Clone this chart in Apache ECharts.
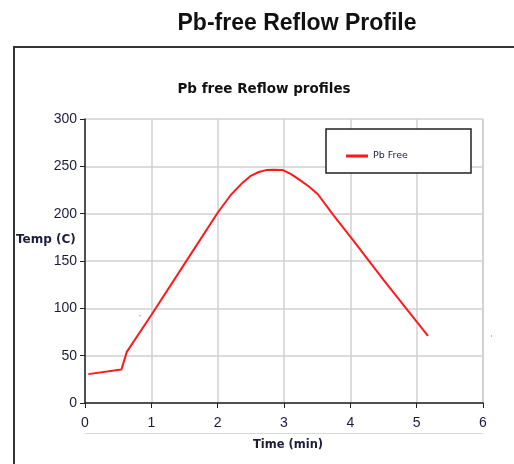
<!DOCTYPE html>
<html><head><meta charset="utf-8">
<script src="https://cdn.jsdelivr.net/npm/echarts@6/dist/echarts.min.js"></script>
<style>html,body{margin:0;padding:0;background:#fff}#c{width:514px;height:464px}</style>
</head><body><div id="c"></div>
<script>
const timeMin = [0.05, 0.55, 0.63, 1.0, 1.5, 2.0, 2.2, 2.38, 2.5, 2.62, 2.73, 2.85, 2.98, 3.1, 3.23, 3.37, 3.51, 3.75, 4.04, 4.5, 5.17];
const tempC   = [30.5, 35.5, 54, 93, 147, 201, 220, 233, 240, 244, 246, 246.5, 246, 242, 236, 229, 220.5, 198, 172, 130, 71];
const seriesName = 'Pb Free';
const xTicks = [0, 1, 2, 3, 4, 5, 6];
const yTicks = [0, 50, 100, 150, 200, 250, 300];

const chart = echarts.init(document.getElementById('c'));
const txt = '#1c1c3c';
chart.setOption({
  animation: false,
  title: [
    {text: 'Pb-free Reflow Profile', left: 292, top: 7, textAlign: 'center',
     textStyle: {fontFamily: 'Liberation Sans', fontSize: 23, fontWeight: 'bold', color: '#111'}},
    {text: 'Pb free Reflow profiles', left: 259, top: 77, textAlign: 'center',
     textStyle: {fontFamily: 'DejaVu Sans', fontSize: 13.5, fontWeight: 'bold', color: '#111'}}
  ],
  legend: {
    left: 346, top: 149, padding: [0, 0, 0, 0], z: 10,
    itemWidth: 22, itemHeight: 3, icon: 'rect', itemGap: 4,
    textStyle: {fontFamily: 'DejaVu Sans', fontSize: 9.5, color: txt, verticalAlign: 'top', lineHeight: 14},
    data: [seriesName]
  },
  grid: {left: 85, right: 31, top: 119, bottom: 61},
  xAxis: {
    type: 'value', min: 0, max: 6, interval: 1,
    name: 'Time (min)', nameLocation: 'middle', nameGap: 36,
    nameTextStyle: {fontFamily: 'DejaVu Sans', fontSize: 11.5, fontWeight: 'bold', color: txt, padding: [0, 0, 0, 8]},
    axisLine: {show: true, onZero: false, lineStyle: {color: '#222', width: 1.5}},
    axisTick: {show: true, length: 5, lineStyle: {color: '#222'}},
    axisLabel: {fontFamily: 'Liberation Sans', fontSize: 14, color: txt, margin: 13,
      formatter: v => xTicks.includes(v) ? String(v) : ''},
    splitLine: {show: true, lineStyle: {color: '#d0d0d0', width: 1.5}}
  },
  yAxis: {
    type: 'value', min: 0, max: 300, interval: 50,
    axisLine: {show: true, lineStyle: {color: '#222', width: 1.5}},
    axisTick: {show: true, length: 5, lineStyle: {color: '#222'}},
    axisLabel: {fontFamily: 'Liberation Sans', fontSize: 14, color: txt, margin: 8,
      formatter: v => yTicks.includes(v) ? String(v) : ''},
    splitLine: {show: true, lineStyle: {color: '#d0d0d0', width: 1.5}}
  },
  graphic: [
    {type: 'polyline', shape: {points: [[14, 464], [14, 47], [514, 47]]}, style: {stroke: '#333', lineWidth: 2, fill: null}},
    {type: 'line', shape: {x1: 483, y1: 119, x2: 483, y2: 403}, style: {stroke: '#c8c8c8', lineWidth: 1.5}},
    {type: 'rect', shape: {x: 326, y: 129, width: 145, height: 44}, style: {stroke: '#222', lineWidth: 1.5, fill: '#fff'}, z: 3},
    {type: 'line', shape: {x1: 85, y1: 433.5, x2: 483, y2: 433.5}, style: {stroke: '#d8d8d8', lineWidth: 1}},
    {type: 'text', left: 16, top: 234, style: {text: 'Temp (C)', fontFamily: 'DejaVu Sans', fontSize: 12, fontWeight: 'bold', fill: txt}},
    {type: 'circle', shape: {cx: 140, cy: 315.7, r: 0.7}, style: {fill: '#f66'}},
    {type: 'circle', shape: {cx: 491.5, cy: 336, r: 0.7}, style: {fill: '#f66'}}
  ],
  series: [{
    name: seriesName, type: 'line', showSymbol: false, smooth: false,
    data: timeMin.map((t, i) => [t, tempC[i]]),
    lineStyle: {color: '#ff1a1a', width: 2}, itemStyle: {color: '#ff1a1a'}
  }]
});
</script></body></html>
